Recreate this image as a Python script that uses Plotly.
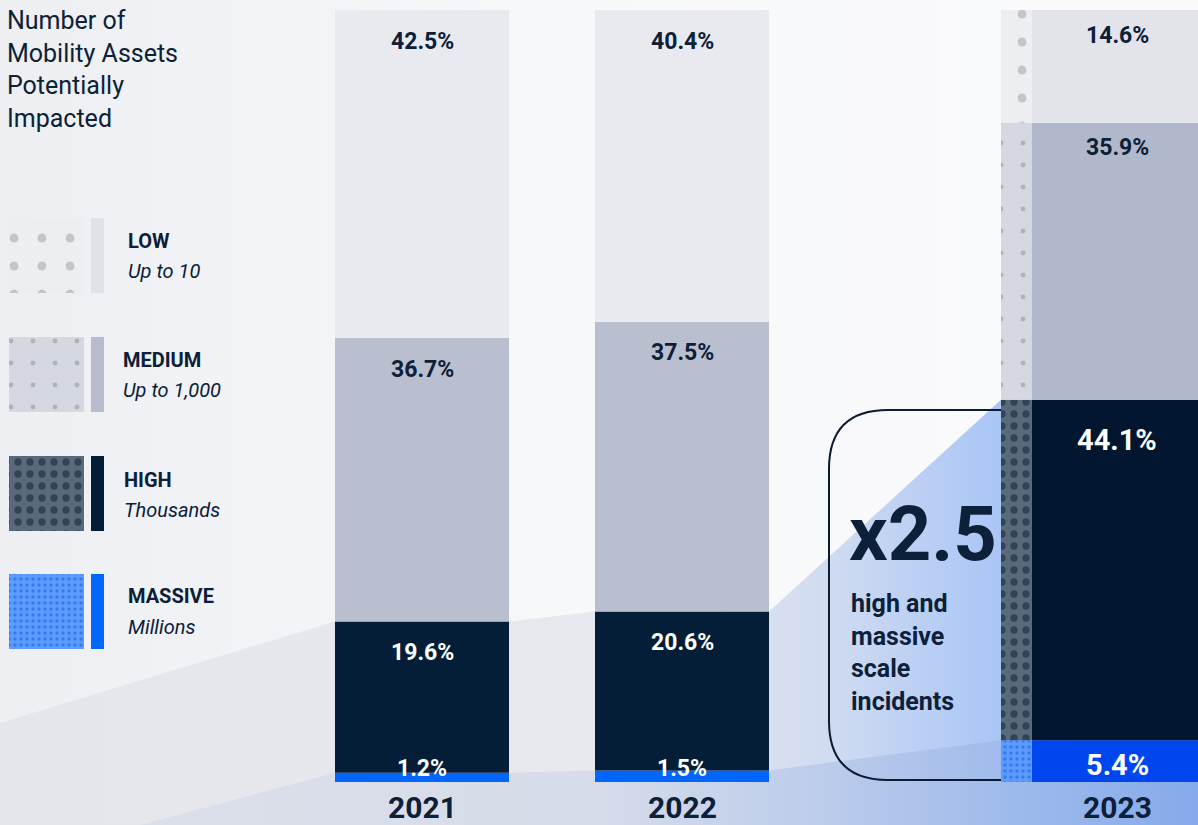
import numpy as np
import plotly.graph_objects as go

# ---------------- DATA ----------------
years = ["2021", "2022", "2023"]
categories = ["MASSIVE", "HIGH", "MEDIUM", "LOW"]          # bottom -> top
descriptions = ["Millions", "Thousands", "Up to 1,000", "Up to 10"]
massive = [1.2, 1.5, 5.4]
high = [19.6, 20.6, 44.1]
medium = [36.7, 37.5, 35.9]
low = [42.5, 40.4, 14.6]
title_lines = ["Number of", "Mobility Assets", "Potentially", "Impacted"]
multiplier_text = "x2.5"
callout_lines = ["high and", "massive", "scale", "incidents"]

# ---------------- LAYOUT CONSTANTS ----------------
W, H = 1198, 825
BASE_PX = 782.0            # pixel row of 0 %
PX_PER_PCT = 7.72          # pixels per percentage point
Y_MIN = -(H - BASE_PX) / PX_PER_PCT
Y_MAX = BASE_PX / PX_PER_PCT

bar_x = [422, 682, 1117]
bar_w = [174, 174, 170]
strip_x, strip_w = 1016.5, 31
bar_edges = [(335, 509), (595, 769), (1001, 1198)]

DARK = "#0C2039"
VAL_FONT = "Roboto"
TXT_FONT = "Roboto"

bar_colors = {
    "LOW": ["#E9EAEF", "#E9EAEF", "#E2E4EA"],
    "MEDIUM": ["#B9BFCF", "#B9BFCF", "#B2B8CB"],
    "HIGH": ["#041E38", "#041E38", "#02172F"],
    "MASSIVE": ["#0066FF", "#0066FF", "#0046EE"],
}
legend_bar_colors = {"LOW": "#E0E2E8", "MEDIUM": "#B8BDCE", "HIGH": "#031D38", "MASSIVE": "#0066FF"}
patterns = {
    "LOW": dict(shape=".", fgcolor="#9B9CA0", bgcolor="#EDEEF1", size=28, solidity=0.08),
    "MEDIUM": dict(shape=".", fgcolor="#888C99", bgcolor="#D5D8E1", size=22, solidity=0.04),
    "HIGH": dict(shape=".", fgcolor="#0B1A2D", bgcolor="#5A6A7B", size=12, solidity=0.3),
    "MASSIVE": dict(shape=".", fgcolor="#1255EA", bgcolor="#5C9BFF", size=6, solidity=0.25),
}
swatch_top_px = {"LOW": 218, "MEDIUM": 337, "HIGH": 456, "MASSIVE": 574}
legend_text_x = {"LOW": 126, "MEDIUM": 121, "HIGH": 122, "MASSIVE": 126}
legend_text_y = {"LOW": (240.5, 271), "MEDIUM": (359.5, 390), "HIGH": (479.5, 509.5), "MASSIVE": (595.5, 627)}
text_colors = {"LOW": DARK, "MEDIUM": DARK, "HIGH": "white", "MASSIVE": "white"}

series = np.array([massive, high, medium, low])
tops = np.cumsum(series, axis=0)
bases = tops - series

fig = go.Figure()

# ---------------- BACKGROUND (main subplot x/y) ----------------
fig.add_trace(go.Scatter(
    x=[0, W, W, 0], y=[Y_MIN, Y_MIN, Y_MAX, Y_MAX], fill="toself", mode="lines",
    line=dict(width=0), hoverinfo="skip",
    fillgradient=dict(type="horizontal", start=0, stop=W,
                      colorscale=[[0, "#EDEFF3"], [0.45, "#F7F8FA"], [1, "#FBFBFC"]]),
))
left_edge_pct = (BASE_PX - 723) / PX_PER_PCT
hi_tops = tops[1]
fig.add_trace(go.Scatter(
    x=[0, bar_edges[0][0], bar_edges[0][1], bar_edges[1][0], bar_edges[1][1], bar_edges[2][0], W, W, 0],
    y=[left_edge_pct, hi_tops[0], hi_tops[0], hi_tops[1], hi_tops[1], hi_tops[2], hi_tops[2], Y_MIN, Y_MIN],
    fill="toself", mode="lines", line=dict(width=0), hoverinfo="skip",
    fillgradient=dict(type="horizontal", start=0, stop=W,
                      colorscale=[[0, "#E4E6EC"], [0.5, "#E7E9EF"], [0.68, "#D3DDF1"],
                                  [0.84, "#A8C5F6"], [1, "#A8C5F6"]]),
))
ma_tops = tops[0]
fig.add_trace(go.Scatter(
    x=[140, bar_edges[0][0], bar_edges[0][1], bar_edges[1][0], bar_edges[1][1], bar_edges[2][0], W, W, 140],
    y=[Y_MIN, ma_tops[0], ma_tops[0], ma_tops[1], ma_tops[1], ma_tops[2], ma_tops[2], Y_MIN, Y_MIN],
    fill="toself", mode="lines", line=dict(width=0), hoverinfo="skip",
    fillgradient=dict(type="horizontal", start=0, stop=W,
                      colorscale=[[0, "#DDE0E8"], [0.5, "#D6DCEA"], [0.7, "#BACBEB"],
                                  [0.85, "#9DBAEC"], [1, "#86AAEA"]]),
))

# ---------------- STACKED BARS (x/y2) ----------------
for k, cat in enumerate(categories):
    fig.add_trace(go.Bar(
        x=bar_x, y=series[k], base=bases[k], width=bar_w, yaxis="y2",
        marker=dict(color=bar_colors[cat], line=dict(width=0)), hoverinfo="skip",
    ))
    fig.add_trace(go.Bar(
        x=[strip_x], y=[series[k][2]], base=[bases[k][2]], width=[strip_w], yaxis="y2",
        marker=dict(color=patterns[cat]["bgcolor"], pattern=patterns[cat], line=dict(width=0)),
        hoverinfo="skip",
    ))

# ---------------- LEGEND SWATCHES (x/y3, pixel rows) ----------------
for cat in categories:
    fig.add_trace(go.Bar(
        x=[46.5], y=[75], base=[swatch_top_px[cat]], width=[75], yaxis="y3",
        marker=dict(color=patterns[cat]["bgcolor"], pattern=patterns[cat], line=dict(width=0)),
        hoverinfo="skip",
    ))
    fig.add_trace(go.Bar(
        x=[97.5], y=[75], base=[swatch_top_px[cat]], width=[13], yaxis="y3",
        marker=dict(color=legend_bar_colors[cat], line=dict(width=0)), hoverinfo="skip",
    ))

annotations = []
annotations.append(dict(
    x=5, y=69, xref="x", yref="y3", xanchor="left", yanchor="middle", align="left",
    text="<br>".join(title_lines), showarrow=False,
    font=dict(family=TXT_FONT, size=25, color="#0D2137"),
))
for k, cat in enumerate(categories):
    ty, dy = legend_text_y[cat]
    annotations.append(dict(
        x=legend_text_x[cat], y=ty, xref="x", yref="y3", xanchor="left", yanchor="middle",
        text=cat, showarrow=False,
        font=dict(family=TXT_FONT, size=20, color=DARK, weight="bold"),
    ))
    annotations.append(dict(
        x=legend_text_x[cat], y=dy, xref="x", yref="y3", xanchor="left", yanchor="middle",
        text=descriptions[k], showarrow=False,
        font=dict(family=TXT_FONT, size=20, color=DARK, style="italic"),
    ))

for k, cat in enumerate(categories):
    for i, yr in enumerate(years):
        big = (i == 2 and cat in ("HIGH", "MASSIVE"))
        size = 29 if big else 23
        if cat == "MASSIVE":
            y, shift = 0, (17 if big else 13.5)
        else:
            y = tops[k][i]
            if i == 2:
                shift = -40 if big else -25
            else:
                shift = -31
        annotations.append(dict(
            x=bar_x[i], y=y, xref="x", yref="y2", xanchor="center", yanchor="middle",
            yshift=shift, text=f"{series[k][i]:.1f}%", showarrow=False,
            font=dict(family=VAL_FONT, size=size, color=text_colors[cat], weight="bold"),
        ))

for i, yr in enumerate(years):
    annotations.append(dict(
        x=bar_x[i], y=807, xref="x", yref="y3", xanchor="center", yanchor="middle",
        text=yr, showarrow=False,
        font=dict(family=VAL_FONT, size=30, color=DARK, weight="bold"),
    ))

annotations.append(dict(
    x=847, y=534, xref="x", yref="y3", xanchor="left", yanchor="middle",
    text=multiplier_text, showarrow=False,
    font=dict(family=VAL_FONT, size=76, color=DARK, weight="bold"),
))
annotations.append(dict(
    x=849, y=652, xref="x", yref="y3", xanchor="left", yanchor="middle", align="left",
    text="<br>".join(callout_lines), showarrow=False,
    font=dict(family=TXT_FONT, size=25, color=DARK, weight="bold"),
))

shapes = [dict(
    type="path", xref="x", yref="y3",
    path="M 1001,410 L 888,410 Q 829,410 829,469 L 829,721 Q 829,780 888,780 L 1001,780",
    line=dict(color="#0C1C30", width=2), fillcolor="rgba(0,0,0,0)", layer="above",
)]

fig.update_layout(
    width=W, height=H, margin=dict(l=0, r=0, t=0, b=0),
    paper_bgcolor="#F8F9FB", plot_bgcolor="rgba(0,0,0,0)",
    barmode="overlay", showlegend=False,
    xaxis=dict(range=[0, W], visible=False, fixedrange=True),
    yaxis=dict(range=[Y_MIN, Y_MAX], visible=False, fixedrange=True),
    yaxis2=dict(range=[Y_MIN, Y_MAX], visible=False, overlaying="y", fixedrange=True),
    yaxis3=dict(range=[H, 0], visible=False, overlaying="y", fixedrange=True),
    annotations=annotations, shapes=shapes,
)

fig.write_html("out.html")
